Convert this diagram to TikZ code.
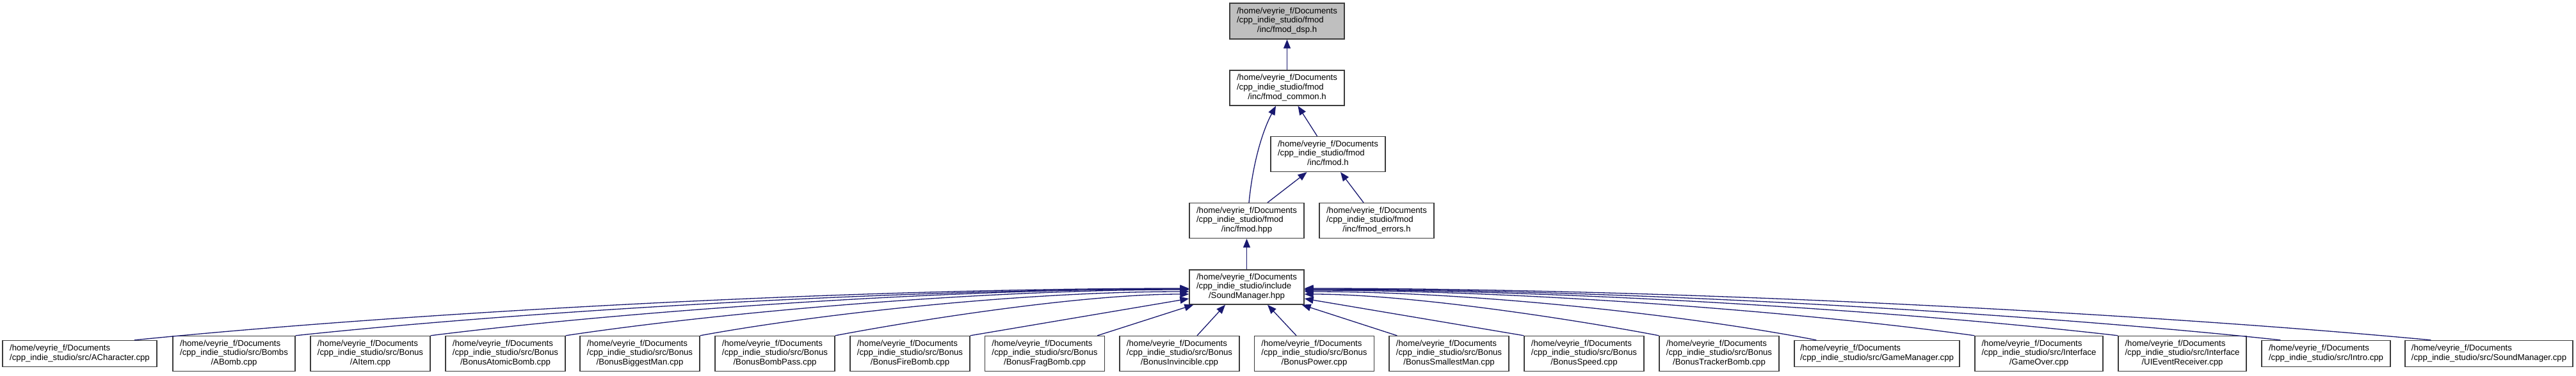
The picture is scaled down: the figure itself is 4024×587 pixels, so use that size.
\documentclass[tikz,border=0pt]{standalone}
\usepackage{fontspec}
\setmainfont{Liberation Sans}
\usetikzlibrary{arrows.meta}
\definecolor{edgeblue}{RGB}{25,25,112}
\definecolor{boxline}{RGB}{60,60,60}
\definecolor{boxgray}{RGB}{191,191,191}
\newcommand{\mythree}[3]{\begin{tabular}{@{}l@{}}#1\\#2\\\multicolumn{1}{@{}c@{}}{#3}\end{tabular}}
\newcommand{\mytwo}[2]{\begin{tabular}{@{}l@{}}#1\\#2\end{tabular}}
\begin{document}
\begin{tikzpicture}[x=1pt,y=-1pt,
  filebox/.style={draw=boxline, line width=1.4pt, fill=white, rectangle, inner sep=0pt,
    minimum height=55pt, font=\fontsize{13.2pt}{14.7pt}\selectfont},
  twobox/.style={filebox, minimum height=41pt},
  edge/.style={draw=edgeblue, line width=1.3pt, -{Triangle[length=14pt,width=11pt]}}]
\fill[white] (0,0) rectangle (4024,587);
\useasboundingbox (0,0) rectangle (4024,587);

% upper part
\node[filebox, fill=boxgray, minimum width=179pt, minimum height=56pt] (dsp) at (2010.5,33) {\mythree{/home/veyrie\_f/Documents}{/cpp\_indie\_studio/fmod}{/inc/fmod\_dsp.h}};
\node[filebox, minimum width=179pt] (common) at (2010.5,137.5) {\mythree{/home/veyrie\_f/Documents}{/cpp\_indie\_studio/fmod}{/inc/fmod\_common.h}};
\node[filebox, minimum width=179pt] (fmodh) at (2074.5,241) {\mythree{/home/veyrie\_f/Documents}{/cpp\_indie\_studio/fmod}{/inc/fmod.h}};
\node[filebox, minimum width=179pt] (hpp) at (1947.5,345) {\mythree{/home/veyrie\_f/Documents}{/cpp\_indie\_studio/fmod}{/inc/fmod.hpp}};
\node[filebox, minimum width=179pt] (errors) at (2150.5,345) {\mythree{/home/veyrie\_f/Documents}{/cpp\_indie\_studio/fmod}{/inc/fmod\_errors.h}};
\node[filebox, minimum width=179pt, minimum height=54pt] (smh) at (1947.5,449) {\mythree{/home/veyrie\_f/Documents}{/cpp\_indie\_studio/include}{/SoundManager.hpp}};

% bottom row
\node[twobox, minimum width=241pt] (ac) at (124.5,553) {\mytwo{/home/veyrie\_f/Documents}{/cpp\_indie\_studio/src/ACharacter.cpp}};
\node[filebox, minimum width=191pt] (abomb) at (365.5,553) {\mythree{/home/veyrie\_f/Documents}{/cpp\_indie\_studio/src/Bombs}{/ABomb.cpp}};
\node[filebox, minimum width=187pt] (aitem) at (578.5,553) {\mythree{/home/veyrie\_f/Documents}{/cpp\_indie\_studio/src/Bonus}{/AItem.cpp}};
\node[filebox, minimum width=187pt] (atomic) at (789.5,553) {\mythree{/home/veyrie\_f/Documents}{/cpp\_indie\_studio/src/Bonus}{/BonusAtomicBomb.cpp}};
\node[filebox, minimum width=187pt] (biggest) at (999.5,553) {\mythree{/home/veyrie\_f/Documents}{/cpp\_indie\_studio/src/Bonus}{/BonusBiggestMan.cpp}};
\node[filebox, minimum width=187pt] (bombpass) at (1210.5,553) {\mythree{/home/veyrie\_f/Documents}{/cpp\_indie\_studio/src/Bonus}{/BonusBombPass.cpp}};
\node[filebox, minimum width=187pt] (fire) at (1421.5,553) {\mythree{/home/veyrie\_f/Documents}{/cpp\_indie\_studio/src/Bonus}{/BonusFireBomb.cpp}};
\node[filebox, minimum width=187pt] (frag) at (1632,553) {\mythree{/home/veyrie\_f/Documents}{/cpp\_indie\_studio/src/Bonus}{/BonusFragBomb.cpp}};
\node[filebox, minimum width=187pt] (invinc) at (1842.5,553) {\mythree{/home/veyrie\_f/Documents}{/cpp\_indie\_studio/src/Bonus}{/BonusInvincible.cpp}};
\node[filebox, minimum width=187pt] (power) at (2053,553) {\mythree{/home/veyrie\_f/Documents}{/cpp\_indie\_studio/src/Bonus}{/BonusPower.cpp}};
\node[filebox, minimum width=187pt] (smallest) at (2263.5,553) {\mythree{/home/veyrie\_f/Documents}{/cpp\_indie\_studio/src/Bonus}{/BonusSmallestMan.cpp}};
\node[filebox, minimum width=187pt] (speed) at (2474.5,553) {\mythree{/home/veyrie\_f/Documents}{/cpp\_indie\_studio/src/Bonus}{/BonusSpeed.cpp}};
\node[filebox, minimum width=187pt] (tracker) at (2685.5,553) {\mythree{/home/veyrie\_f/Documents}{/cpp\_indie\_studio/src/Bonus}{/BonusTrackerBomb.cpp}};
\node[twobox, minimum width=258pt] (gamemgr) at (2932,553) {\mytwo{/home/veyrie\_f/Documents}{/cpp\_indie\_studio/src/GameManager.cpp}};
\node[filebox, minimum width=200pt] (gameover) at (3185,553) {\mythree{/home/veyrie\_f/Documents}{/cpp\_indie\_studio/src/Interface}{/GameOver.cpp}};
\node[filebox, minimum width=200pt] (uievent) at (3409,553) {\mythree{/home/veyrie\_f/Documents}{/cpp\_indie\_studio/src/Interface}{/UIEventReceiver.cpp}};
\node[twobox, minimum width=201pt] (intro) at (3633.5,553) {\mytwo{/home/veyrie\_f/Documents}{/cpp\_indie\_studio/src/Intro.cpp}};
\node[twobox, minimum width=262pt] (smcpp) at (3888,553) {\mytwo{/home/veyrie\_f/Documents}{/cpp\_indie\_studio/src/SoundManager.cpp}};

% upper edges
\draw[edge] (common) -- (dsp);
\draw[edge] ([xshift=-17pt]fmodh.north) -- ([xshift=17pt]common.south);
\draw[edge] ([xshift=3.5pt]hpp.north) .. controls (1957,255) and (1972,205) .. ([xshift=-17.5pt]common.south);
\draw[edge] ([xshift=32.5pt]hpp.north) -- ([xshift=-33pt]fmodh.south);
\draw[edge] ([xshift=-20.5pt]errors.north) -- ([xshift=19.5pt]fmodh.south);
\draw[edge] (smh) -- (hpp);

% left edges
\draw[edge] ([xshift=85.5pt]ac.north) .. controls (605.5,492) and (1297.7,451) .. ([yshift=-2pt]smh.west);
\draw[edge] (abomb.north east) .. controls (796.3,489) and (1383,452) .. ([yshift=-3pt]smh.west);
\draw[edge] (aitem.north east) .. controls (956.6,489) and (1454.8,452) .. ([yshift=-3pt]smh.west);
\draw[edge] (atomic.north east) .. controls (1117,489.5) and (1526.5,453) .. ([yshift=-4pt]smh.west);
\draw[edge] (biggest.north east) .. controls (1276.6,491) and (1598,456) .. ([yshift=-7pt]smh.west);
\draw[edge] (bombpass.north east) .. controls (1437,499.6) and (1691.8,460) .. ([yshift=-11pt]smh.west);
\draw[edge] (fire.north east) -- ([yshift=-18pt]smh.west);
\draw[edge] ([xshift=-12pt]frag.north east) -- ([xshift=7pt]smh.south west);
\draw[edge] ([xshift=27.5pt]invinc.north) -- ([xshift=-33.5pt]smh.south);
\draw[edge] ([xshift=-28pt]power.north) -- ([xshift=32.5pt]smh.south);

% right edges
\draw[edge] ([xshift=13pt]smallest.north west) -- ([xshift=-4pt]smh.south east);
\draw[edge] (speed.north west) -- ([yshift=-18pt]smh.east);
\draw[edge] (tracker.north west) .. controls (2459,499.6) and (2203.5,460) .. ([yshift=-11pt]smh.east);
\draw[edge] ([xshift=35pt]gamemgr.north west) .. controls (2646,494.5) and (2309,456) .. ([yshift=-7pt]smh.east);
\draw[edge] (gameover.north west) .. controls (2834.2,490) and (2393.7,454) .. ([yshift=-5pt]smh.east);
\draw[edge] (uievent.north west) .. controls (3003.7,489.5) and (2469.5,453) .. ([yshift=-4pt]smh.east);
\draw[edge] ([xshift=30pt]intro.north west) .. controls (3196.8,492.5) and (2555.8,452) .. ([yshift=-3pt]smh.east);
\draw[edge] ([xshift=41pt]smcpp.north west) .. controls (3375.4,492) and (2635.7,451) .. ([yshift=-2pt]smh.east);
\end{tikzpicture}
\end{document}
